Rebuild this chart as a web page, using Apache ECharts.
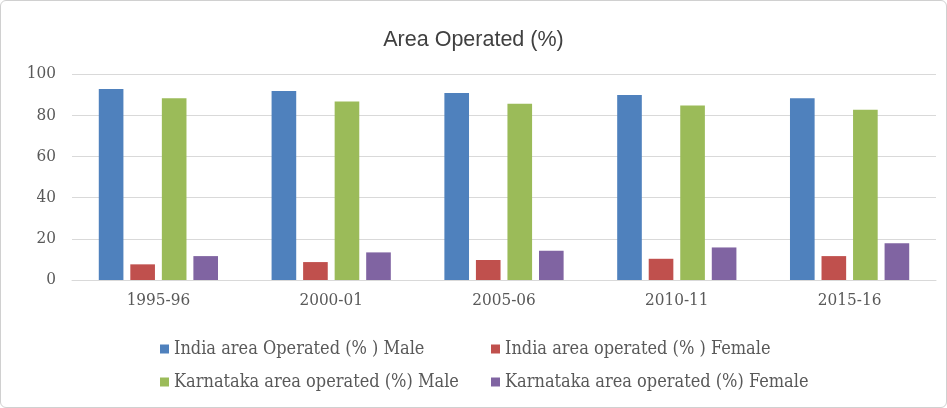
<!DOCTYPE html>
<html><head><meta charset="utf-8">
<script src="https://cdn.jsdelivr.net/npm/echarts@6/dist/echarts.min.js"></script>
<style>
html,body{margin:0;padding:0;background:#fff;}
#c{position:absolute;left:0;top:0;width:945px;height:406px;border:1px solid #d0d0d0;border-radius:6px;}
</style></head>
<body><div id="c"></div>
<script>
const categories = ['1995-96','2000-01','2005-06','2010-11','2015-16'];
const seriesNames = ['India area Operated (% ) Male','India area operated (% ) Female','Karnataka area operated (%) Male','Karnataka area operated (%) Female'];
const indiaMale = [92.7, 91.8, 90.8, 89.8, 88.2];
const indiaFemale = [7.6, 8.7, 9.7, 10.3, 11.6];
const karnatakaMale = [88.2, 86.6, 85.6, 84.7, 82.6];
const karnatakaFemale = [11.6, 13.4, 14.2, 15.8, 17.9];
const yTicks = [0, 20, 40, 60, 80, 100];
const colors = ['#4f81bd','#c0504d','#9bbb59','#8064a2'];
const values = [indiaMale, indiaFemale, karnatakaMale, karnatakaFemale];

const chart = echarts.init(document.getElementById('c'));
const legendPos = [[159,339],[490,339],[159,372],[490,372]];
const serif = 'DejaVu Serif Condensed';
const legendFont = {fontFamily:serif, fontSize:18, color:'#595959'};
chart.setOption({
  animation:false,
  color: colors,
  title:{text:'Area Operated (%)', left:'center', top:23, textStyle:{fontFamily:'Liberation Sans', fontSize:21.5, fontWeight:'normal', color:'#404040'}},
  grid:{left:71, right:10, top:73, bottom:127},
  legend: seriesNames.map((n,i)=>({data:[n], left:legendPos[i][0], top:legendPos[i][1], itemWidth:9, itemHeight:9, itemGap:0, icon:'rect', textStyle:legendFont, padding:0})),
  xAxis:{type:'category', data:categories, axisTick:{show:false}, axisLine:{lineStyle:{color:'#d9d9d9'}},
    axisLabel:{color:'#595959', fontFamily:serif, fontSize:17, margin:12}},
  yAxis:{type:'value', min:yTicks[0], max:yTicks[yTicks.length-1], interval:20,
    splitLine:{lineStyle:{color:'#d9d9d9'}}, axisLine:{show:false}, axisTick:{show:false},
    axisLabel:{color:'#595959', fontFamily:serif, fontSize:17, margin:16}},
  series: seriesNames.map((n,i)=>({name:n, type:'bar', data:values[i], barGap:'28%', barCategoryGap:'31%', itemStyle:{color:colors[i]}}))
});
</script></body></html>
